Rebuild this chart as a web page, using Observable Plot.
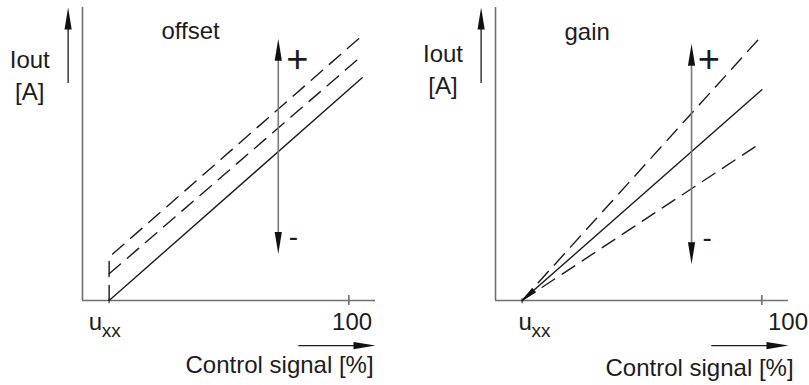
<!DOCTYPE html>
<html>
<head>
<meta charset="utf-8">
<script src="https://cdn.jsdelivr.net/npm/d3@7"></script>
<script src="https://cdn.jsdelivr.net/npm/@observablehq/plot@0.6"></script>
<style>
  html, body { margin: 0; padding: 0; background: #fff; }
  #chart { display: flex; width: 809px; height: 385px; font-family: "Liberation Sans", Arial, sans-serif; }
</style>
</head>
<body>
<div id="chart"></div>
<script>
// ---- data (x: control signal %, y: Iout, arbitrary units) ----
const panels = ["offset", "gain"];
const uxx = 10;
const xTickLabels = ["u", "100"];
const yLabelLines = ["Iout", "[A]"];
const xLabel = "Control signal [%]";

// offset panel lines
const offsetSolid = [{x: 10, y: 0}, {x: 105, y: 76}];
const offsetDashMid = [{x: 10, y: 9.1}, {x: 105, y: 83.6}];
const offsetDashTop = [{x: 10, y: 0}, {x: 10, y: 14.8}, {x: 105, y: 90.4}];

// gain panel lines
const gainSolid = [{x: 10, y: 0}, {x: 100, y: 71.9}];
const gainDashUp = [{x: 10, y: 0}, {x: 100, y: 90.4}];
const gainDashLow = [{x: 10, y: 0}, {x: 100, y: 54}];

// annotation positions per panel (data units)
const titleX = [40.6, 34.4], titleY = [89.4, 89.0];
const arrowX = [73.5, 73.6], arrowTop = [89.3, 87.6], arrowBottom = [15.9, 12.4];
const plusX = [80.7, 80.1], plusY = [82.3, 82.0];
const minusX = [79.2, 79.5], minusY = [21.5, 21.2];
const iLabelX = [-19.8, -19.7], ioutY = [79.2, 81.3], unitY = [68.3, 70.5];
const uLabelX = [2.3, 8.6];
const hundredX = [101.2, 109.8];
const xLabelEndX = [109.3, 111.9], xLabelY = [-24.6, -25.6];

const lineSets = [
  {solid: [offsetSolid], dashed: [offsetDashMid, offsetDashTop]},
  {solid: [gainSolid], dashed: [gainDashUp, gainDashLow]}
];

const axisColor = "#6f6f6f";
const ink = "#1c1c1c";
const FS = 24;

function panel(i, width) {
  const ls = lineSets[i];
  const heads = [
    {x: arrowX[i], y: arrowTop[i], r: 0},
    {x: arrowX[i], y: arrowBottom[i], r: 180},
    {x: -5.4, y: 100, r: 0},
    {x: 110, y: -15.4, r: 90}
  ];
  const marks = [
    // axes
    Plot.ruleY([0], {x1: 0, x2: 110, stroke: axisColor, strokeWidth: 1.6}),
    Plot.ruleX([0], {y1: 0, y2: 100, stroke: axisColor, strokeWidth: 1.6}),
    Plot.ruleX([100], {y1: -1.7, y2: 1.7, stroke: axisColor, strokeWidth: 1.6}),
    Plot.ruleX([uxx], {y1: -1.1, y2: 0.6, stroke: axisColor, strokeWidth: 1.6}),
    // data lines
    ...ls.solid.map(d => Plot.line(d, {x: "x", y: "y", stroke: ink, strokeWidth: 1.4})),
    ...ls.dashed.map(d => Plot.line(d, {x: "x", y: "y", stroke: ink, strokeWidth: 1.4, strokeDasharray: "15,9"})),
    // double arrow
    Plot.ruleX([arrowX[i]], {y1: arrowBottom[i] + 3, y2: arrowTop[i] - 3, stroke: "#7a7a7a", strokeWidth: 1.6}),
    // label arrows
    Plot.ruleX([-5.4], {y1: 74.1, y2: 97, stroke: ink, strokeWidth: 1.3}),
    Plot.ruleY([-15.4], {x1: 81.2, x2: 107, stroke: ink, strokeWidth: 1.3}),
    Plot.vector(heads, {x: "x", y: "y", rotate: "r", length: 22, r: 3.6, shape: "spike", anchor: "end", fill: "#111", stroke: "none"}),
    // texts
    Plot.text([panels[i]], {x: titleX[i], y: titleY[i], text: d => d, fontSize: FS, textAnchor: "middle", lineAnchor: "bottom", fill: ink}),
    Plot.text([yLabelLines[0]], {x: iLabelX[i], y: ioutY[i], text: d => d, fontSize: FS, textAnchor: "middle", lineAnchor: "bottom", fill: ink}),
    Plot.text([yLabelLines[1]], {x: iLabelX[i], y: unitY[i], text: d => d, fontSize: FS, textAnchor: "middle", lineAnchor: "bottom", fill: ink}),
    Plot.text([xTickLabels[0]], {x: uLabelX[i], y: -10.2, text: d => d, fontSize: FS, textAnchor: "start", lineAnchor: "bottom", fill: ink}),
    Plot.text(["xx"], {x: uLabelX[i], y: -10.2, dx: 13, dy: 7, text: d => d, fontSize: 19, textAnchor: "start", lineAnchor: "bottom", fill: ink}),
    Plot.text([xTickLabels[1]], {x: hundredX[i], y: -10.2, text: d => d, fontSize: FS, textAnchor: "middle", lineAnchor: "bottom", fill: ink}),
    Plot.text([xLabel], {x: xLabelEndX[i], y: xLabelY[i], text: d => d, fontSize: FS, textAnchor: "end", lineAnchor: "bottom", fill: ink}),
    Plot.text(["+"], {x: plusX[i], y: plusY[i], text: d => d, fontSize: 38, textAnchor: "middle", lineAnchor: "middle", fill: ink}),
    Plot.text(["-"], {x: minusX[i], y: minusY[i], text: d => d, fontSize: 28, textAnchor: "middle", lineAnchor: "middle", fill: ink})
  ];
  if (i === 1) {
    marks.push(Plot.vector([{x: uxx, y: 0, r: 228.7}], {x: "x", y: "y", rotate: "r", length: 16, r: 3, shape: "spike", anchor: "end", fill: "#111", stroke: "none"}));
  }
  return Plot.plot({
    width, height: 385,
    margin: 0,
    style: {fontFamily: "Liberation Sans, Arial, sans-serif", background: "#fff", overflow: "visible"},
    x: {domain: [0, 110], range: [82, 375]},
    y: {domain: [0, 100], range: [300, 7]},
    axis: null,
    marks
  });
}

const el = document.getElementById("chart");
el.appendChild(panel(0, 413));
el.appendChild(panel(1, 396));
</script>
</body>
</html>
